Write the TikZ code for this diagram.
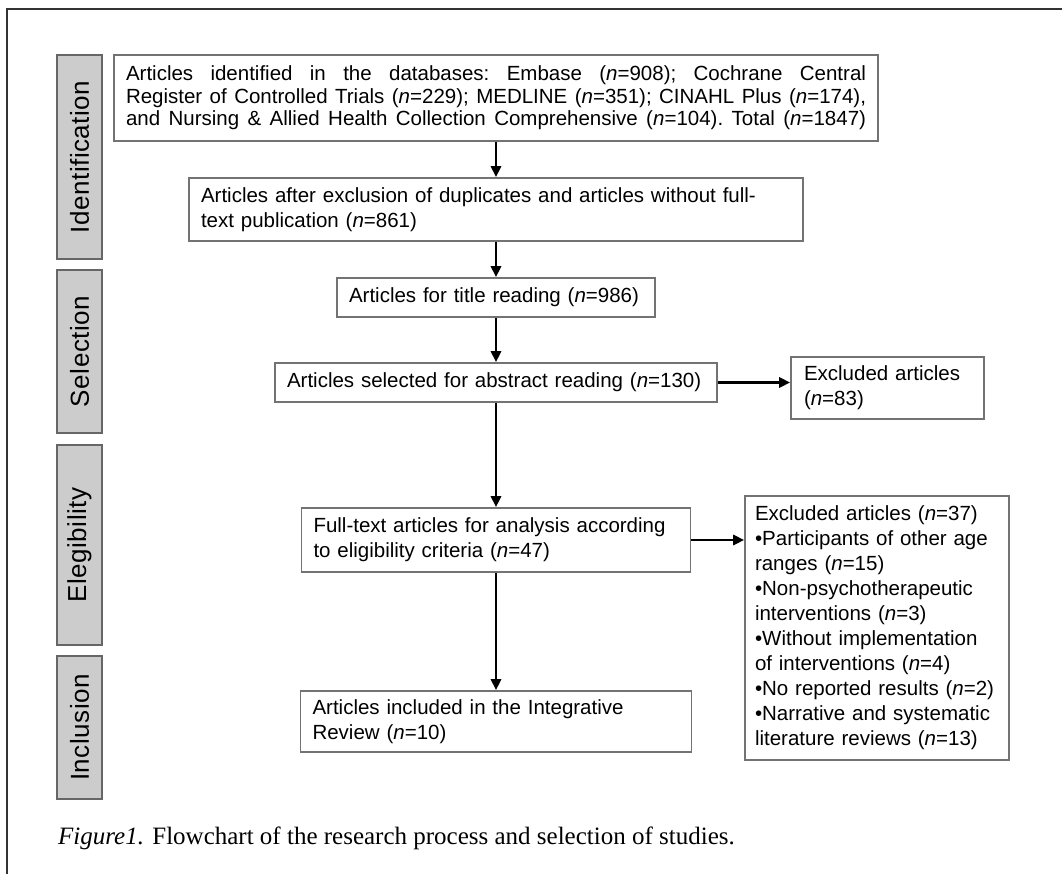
\documentclass[tikz,border=0pt]{standalone}
\usepackage{fontspec}
\setmainfont{Liberation Sans}
\newfontfamily\capfont{Liberation Serif}
\newfontfamily\lblfont[LetterSpace=2]{Liberation Sans}
\usetikzlibrary{arrows.meta}
\newcommand{\fullline}[1]{\leavevmode\hbox to 740pt{\frenchspacing\spaceskip=0.278em plus 1fil\relax #1}}
\begin{document}
\begin{tikzpicture}[x=1pt,y=-1pt,
  box/.style={draw=black!55, line width=1.6pt, fill=white, inner xsep=12pt, inner ysep=0pt, align=left, font=\fontsize{20.5}{25}\selectfont},
  lbl/.style={draw=black!60, fill=black!20, line width=1.6pt, rotate=90, inner sep=0pt, font=\lblfont\fontsize{26}{26}\selectfont},
  arr/.style={line width=2.8pt, -{Triangle[length=11pt,width=10pt]}}]
\useasboundingbox (0,0) rectangle (1062,874);
\fill[white] (0,0) rectangle (1062,874);
\draw[black!80, line width=2pt] (7,874) -- (7,9) -- (1062,9);

% phase labels
\node[lbl, minimum width=204pt, minimum height=45pt] (l1) at (79.5,157) {Identification};
\node[lbl, minimum width=163pt, minimum height=45pt] (l2) at (79.5,351.5) {Selection};
\node[lbl, minimum width=200pt, minimum height=45pt] (l3) at (79.5,545) {Elegibility};
\node[lbl, minimum width=143pt, minimum height=45pt] (l4) at (79.5,727.5) {Inclusion};

% main boxes
\node[box, text width=740pt, minimum height=86pt, font=\fontsize{20.5}{22.5}\selectfont] (b1) at (496,98)
 {\fullline{Articles identified in the databases: Embase (\textit{n}=908); Cochrane Central}\\
  \fullline{Register of Controlled Trials (\textit{n}=229); MEDLINE (\textit{n}=351); CINAHL Plus (\textit{n}=174),}\\
  \fullline{and Nursing \& Allied Health Collection Comprehensive (\textit{n}=104). Total (\textit{n}=1847)}};
\node[box, text width=590pt, minimum height=63pt] (b2) at (496,209.5)
 {Articles after exclusion of duplicates and articles without full-\\text publication (\textit{n}=861)};
\node[box, text width=294pt, minimum height=39pt] (b3) at (496,297.5)
 {Articles for title reading (\textit{n}=986)};
\node[box, text width=418pt, minimum height=39pt] (b4) at (496,382.5)
 {Articles selected for abstract reading (\textit{n}=130)};
\node[box, text width=365pt, minimum height=64pt] (b5) at (496,540)
 {Full-text articles for analysis according\\to eligibility criteria (\textit{n}=47)};
\node[box, text width=367pt, minimum height=61pt] (b6) at (496,721.5)
 {Articles included in the Integrative\\Review (\textit{n}=10)};

% exclusion boxes
\node[box, inner xsep=13pt, text width=167pt, minimum height=62pt] (e1) at (887.5,388)
 {Excluded articles\\(\textit{n}=83)};
\node[box, inner xsep=10pt, text width=244pt, minimum height=264pt] (e2) at (877,628)
 {Excluded articles (\textit{n}=37)\\
  •Participants of other age\\
  ranges (\textit{n}=15)\\
  •Non-psychotherapeutic\\
  interventions (\textit{n}=3)\\
  •Without implementation\\
  of interventions (\textit{n}=4)\\
  •No reported results (\textit{n}=2)\\
  •Narrative and systematic\\
  literature reviews (\textit{n}=13)};

% connectors
\draw[arr] (b1.south) -- (b2.north);
\draw[arr] (b2.south) -- (b3.north);
\draw[arr] (b3.south) -- (b4.north);
\draw[arr] (b4.south) -- (b5.north);
\draw[arr] (b5.south) -- (b6.north);
\draw[arr] (b4.east) -- (b4.east -| e1.west);
\draw[arr] (b5.east) -- (b5.east -| e2.west);

% caption
\node[anchor=west, inner sep=0pt, font=\capfont\fontsize{25}{30}\selectfont] (cap) at (58,838)
 {\textit{Figure1.} Flowchart of the research process and selection of studies.};
\end{tikzpicture}
\end{document}
